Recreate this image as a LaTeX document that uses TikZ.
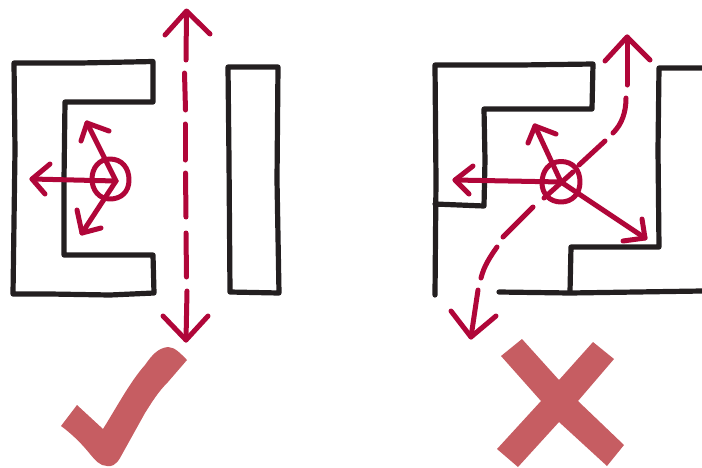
\documentclass[tikz,border=0pt]{standalone}
\definecolor{wallc}{HTML}{231F20}
\definecolor{rayc}{HTML}{B00639}
\definecolor{markc}{HTML}{C65D62}
\tikzset{
 wall/.style={draw=wallc,line width=5.2pt,line cap=round,line join=round},
 ray/.style={draw=rayc,line width=5pt,line cap=round,line join=round},
 markfill/.style={fill=markc,draw=none}
}
\begin{document}
\begin{tikzpicture}[x=1pt,y=-1pt]
\useasboundingbox (0,0) rectangle (702,467);
% left scene walls
\draw[wall] (14,63) -- (80,63) -- (153,61.5) -- (153,102) -- (65,102) -- (64,180) -- (64,255) -- (153,255) -- (154,293) -- (110,295) -- (50,294) -- (13,294) -- (15,150) -- cycle;
\draw[wall] (228,67) -- (278,67) -- (277,180) -- (279,293) -- (230,292) -- (229,160) -- cycle;
% left rays
\draw[ray] (110,159) .. controls (122,159) and (129,168) .. (129,180) .. controls (129,192) and (121,199) .. (110,199) .. controls (99,199) and (92,190) .. (92,179) .. controls (92,168) and (99,159) .. (110,159) -- cycle;
\draw[ray] (116,181) -- (32,179);
\draw[ray] (50,164) -- (32,179) -- (45,194);
\draw[ray] (116,181) -- (87,123);
\draw[ray] (81,141) -- (87,123) -- (109,131);
\draw[ray] (116,181) -- (82,233);
\draw[ray] (77,210) -- (82,233) -- (101,228);
% left dashed
\draw[ray] (186.5,12) -- (186,60);
\draw[ray] (165,35) -- (186.5,11) -- (210,34);
\draw[ray] (184.5,73) -- (185.5,110);
\draw[ray] (185,124) -- (185,160);
\draw[ray] (185.5,173) -- (186,217);
\draw[ray] (186,233) -- (186.5,277);
\draw[ray] (187,291) -- (186,340);
\draw[ray] (163,316) -- (186,340) -- (208,316);
% right scene walls
\draw[wall] (435,295) -- (436,180) -- (435,65) -- (520,65) -- (593,64) -- (592,109) -- (484,109) -- (485,160) -- (484,206) -- (435,204);
\draw[wall] (702,68) -- (659,68) -- (658,150) -- (659,247) -- (571,247) -- (570,292);
\draw[wall] (499,292) -- (570,293) -- (702,291);
% right rays
\draw[ray] (561,161.5) .. controls (573,161.5) and (580,170) .. (580,182) .. controls (580,194) and (572,202) .. (561,202) .. controls (550,202) and (542,194) .. (542,183) .. controls (542,171) and (549,161.5) .. (561,161.5) -- cycle;
\draw[ray] (562,182) -- (455,180);
\draw[ray] (473,166) -- (455,180) -- (469,194);
\draw[ray] (561,182) -- (535,126);
\draw[ray] (528,143) -- (535,126) -- (556,134);
\draw[ray] (561,182) -- (645,238);
\draw[ray] (623,241) -- (645,238) -- (642,219);
\draw[ray] (627,37) -- (627,85);
\draw[ray] (605,61) -- (627,37) -- (650,60);
\draw[ray] (626,98) .. controls (626,112) and (622,124) .. (613,133);
\draw[ray] (605,141) -- (579,165);
\draw[ray] (544,198) -- (573,172);
\draw[ray] (533,207) -- (503,237);
\draw[ray] (497,247) .. controls (490,257) and (484,266) .. (481,278);
\draw[ray] (478,290) -- (471,337);
\draw[ray] (451,311) -- (471,337) -- (496,316);
% check mark
\fill[markfill] (61,426) -- (77,405) -- (103,429) .. controls (118,405) and (130,382) .. (145,365) .. controls (152,355) and (158,348) .. (168,347) .. controls (175,347) and (181,354) .. (187,360) -- (168,382) .. controls (158,392) and (152,402) .. (145,413) -- (120,458) .. controls (116,465) and (111,467) .. (107,466) .. controls (100,466) and (95,460) .. (90,454) .. controls (82,444) and (72,434) .. (61,426) -- cycle;
% cross mark
\fill[markfill] (522,339) -- (559,380) -- (593,342) -- (614,359) -- (578,401) -- (624,445) -- (607,466) -- (559,422) -- (518,467) -- (497,449) -- (541,401) -- (501,356) -- cycle;
\end{tikzpicture}
\end{document}
